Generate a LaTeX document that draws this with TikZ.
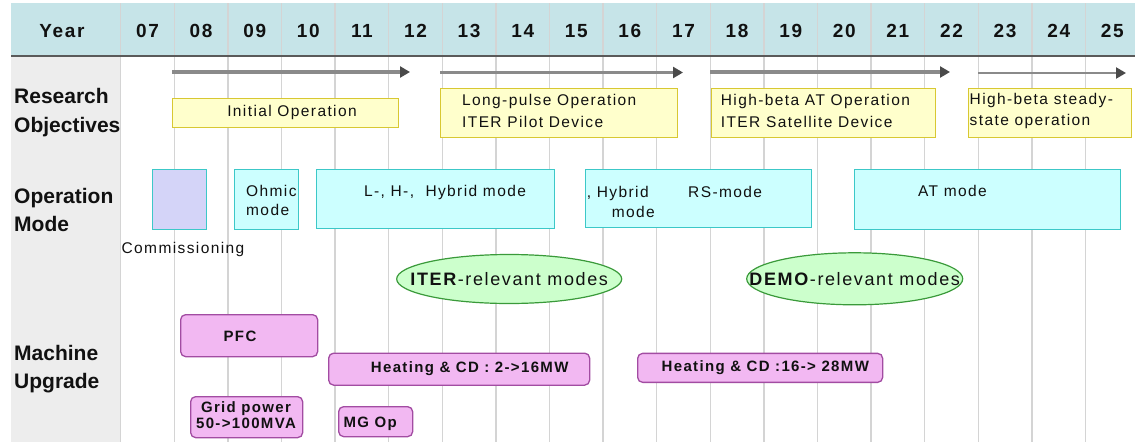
\documentclass[tikz,border=0pt]{standalone}
\usepackage{fontspec}
\setmainfont{Liberation Sans}
\newfontfamily\gul{Liberation Sans}[LetterSpace=9]
\usetikzlibrary{arrows.meta,shapes.geometric}
\definecolor{hdr}{HTML}{C6E4E8}
\definecolor{darkline}{HTML}{5A5A5A}
\definecolor{leftg}{HTML}{EDEDED}
\definecolor{gridc}{HTML}{D4D4D4}
\definecolor{arrc}{HTML}{8A8A8A}
\definecolor{tipc}{HTML}{4A4A4A}
\definecolor{yelF}{HTML}{FFFFCC}
\definecolor{yelB}{HTML}{D8C832}
\definecolor{cyF}{HTML}{CCFFFF}
\definecolor{cyB}{HTML}{3CC8C8}
\definecolor{lav}{HTML}{D4D4F8}
\definecolor{grF}{HTML}{CCFFCC}
\definecolor{grB}{HTML}{3A9A3A}
\definecolor{pkF}{HTML}{F2B8F2}
\definecolor{pkB}{HTML}{A24CA2}
\definecolor{txt}{HTML}{111111}
\tikzset{
  gridline/.style={draw=gridc, line width=1.4pt},
  arrowline/.style={draw=arrc, line width=3.6pt, -{Triangle[length=10pt,width=11pt,color=tipc]}},
  bx/.style={inner sep=0pt, anchor=north west, line width=1.3pt},
  yelbox/.style={bx, draw=yelB, fill=yelF},
  cybox/.style={bx, draw=cyB, fill=cyF},
  combox/.style={bx, draw=cyB, fill=lav},
  pkbox/.style={bx, draw=pkB, fill=pkF, rounded corners=5pt},
  ell/.style={ellipse, draw=grB, fill=grF, line width=1.2pt, inner sep=0pt},
  elltxt/.style={inner sep=0pt, font=\gul\fontsize{18}{20}\selectfont, text=txt},
  hdrlbl/.style={inner sep=0pt, anchor=base, font=\gul\bfseries\fontsize{19}{22}\selectfont, text=txt},
  rowlbl/.style={inner sep=0pt, anchor=base west, font=\bfseries\fontsize{21}{25}\selectfont, text=txt},
  lbl/.style={inner sep=0pt, font=\gul\fontsize{15.5}{21.6}\selectfont, text=txt},
  blbl/.style={inner sep=0pt, font=\gul\bfseries\fontsize{15}{15.6}\selectfont, text=txt},
}
\begin{document}
\begin{tikzpicture}[x=1pt,y=-1pt]
\useasboundingbox (0,0) rectangle (1135,442);
% backgrounds
\fill[hdr] (11,3) rectangle (1135,56);
\fill[leftg] (11,56) rectangle (120.7,442);
\foreach \k in {0,...,18} \draw[gridline] (120.7+53.6*\k,3) -- (120.7+53.6*\k,442);
\draw[darkline, line width=2pt] (11,56) -- (1135,56);
% header
\node[hdrlbl] (year) at (62,37) {Year};
\foreach \y [count=\k from 0] in {07,08,09,10,11,12,13,14,15,16,17,18,19,20,21,22,23,24,25}
  \node[hdrlbl] (y\y) at (147.5+53.6*\k,37) {\y};
% row labels
\node[rowlbl] (r1a) at (14,103.5) {Research};
\node[rowlbl] (r1b) at (14,132) {Objectives};
\node[rowlbl] (r2a) at (14,203) {Operation};
\node[rowlbl] (r2b) at (14,231.5) {Mode};
\node[rowlbl] (r3a) at (14,360) {Machine};
\node[rowlbl] (r3b) at (14,388) {Upgrade};
% arrows
\coordinate (a1s) at (172,72);   \coordinate (a1e) at (410,72);
\coordinate (a2s) at (440,72.5); \coordinate (a2e) at (683,72.5);
\coordinate (a3s) at (710,72);   \coordinate (a3e) at (950,72);
\coordinate (a4s) at (978,73);   \coordinate (a4e) at (1126,73);
\draw[arrowline] (a1s) -- (a1e);
\draw[arrowline] (a2s) -- (a2e);
\draw[arrowline] (a3s) -- (a3e);
\draw[arrowline, line width=2.2pt] (a4s) -- (a4e);
% research objectives
\node[yelbox, minimum width=226pt, minimum height=29pt] (io) at (172,98) {};
\node[lbl, anchor=base] (iot) at (292,116) {Initial Operation};
\node[yelbox, minimum width=237pt, minimum height=49pt] (lp) at (440,88) {};
\node[lbl, anchor=west, align=left] (lpt) at (462,111) {Long-pulse Operation\\ITER Pilot Device};
\node[yelbox, minimum width=224pt, minimum height=49pt] (hb) at (711,88) {};
\node[lbl, anchor=west, align=left] (hbt) at (720.7,111) {High-beta AT Operation\\ITER Satellite Device};
\node[yelbox, minimum width=163pt, minimum height=49pt] (hs) at (968,88) {};
\node[lbl, anchor=west, align=left] (hst) at (969.5,111) {High-beta steady-\\state operation};
% operation modes
\node[combox, minimum width=54pt, minimum height=60.5pt] (com) at (152,168.5) {};
\node[lbl, anchor=base] (comt) at (183,253) {Commissioning};
\node[cybox, minimum width=64pt, minimum height=60.5pt] (ohm) at (234,168.5) {};
\node[lbl, anchor=west, align=left, font=\gul\fontsize{15.5}{19}\selectfont] (ohmt) at (246,200.5) {Ohmic\\mode};
\node[cybox, minimum width=238pt, minimum height=59pt] (lh) at (316,168.5) {};
\node[lbl, anchor=base] (lht) at (445,196.7) {L-, H-,\ \ Hybrid mode};
\node[cybox, minimum width=226.5pt, minimum height=58.5pt] (rs) at (584.5,168.5) {};
\node[lbl, anchor=base west] (rst1) at (586.7,197.7) {, Hybrid};
\node[lbl, anchor=base west] (rst2) at (688,197.7) {RS-mode};
\node[lbl, anchor=base west] (rst3) at (611.7,217.3) {mode};
\node[cybox, minimum width=265.5pt, minimum height=60pt] (at) at (854,168.5) {};
\node[lbl, anchor=base] (att) at (952.5,196.7) {AT mode};
% ellipses
\node[ell, minimum width=225pt, minimum height=49pt] (iter) at (509.2,279) {};
\node[elltxt] (itert) at (iter.center) {\textbf{ITER}-relevant modes};
\node[ell, minimum width=216pt, minimum height=52pt] (demo) at (854.7,278.8) {};
\node[elltxt] (demot) at (demo.center) {\textbf{DEMO}-relevant modes};
% machine upgrade
\node[pkbox, minimum width=137pt, minimum height=42pt] (pfc) at (180,314) {};
\node[blbl, anchor=base] (pfct) at (240,341.7) {PFC};
\node[pkbox, minimum width=261pt, minimum height=32pt] (h1) at (328,352.5) {};
\node[blbl, anchor=base] (h1t) at (469.7,372.7) {Heating \& CD : 2->16MW};
\node[pkbox, minimum width=245pt, minimum height=29pt] (h2) at (637,352.7) {};
\node[blbl, anchor=base] (h2t) at (765.3,371.7) {Heating \& CD :16-> 28MW};
\node[pkbox, minimum width=112pt, minimum height=41pt] (grid) at (190,396) {};
\node[blbl, align=center] (gridt) at (246,415) {Grid power\\50->100MVA};
\node[pkbox, minimum width=74pt, minimum height=30pt] (mg) at (338,406) {};
\node[blbl, anchor=base west] (mgt) at (343.3,427.3) {MG Op};
\end{tikzpicture}
\end{document}
